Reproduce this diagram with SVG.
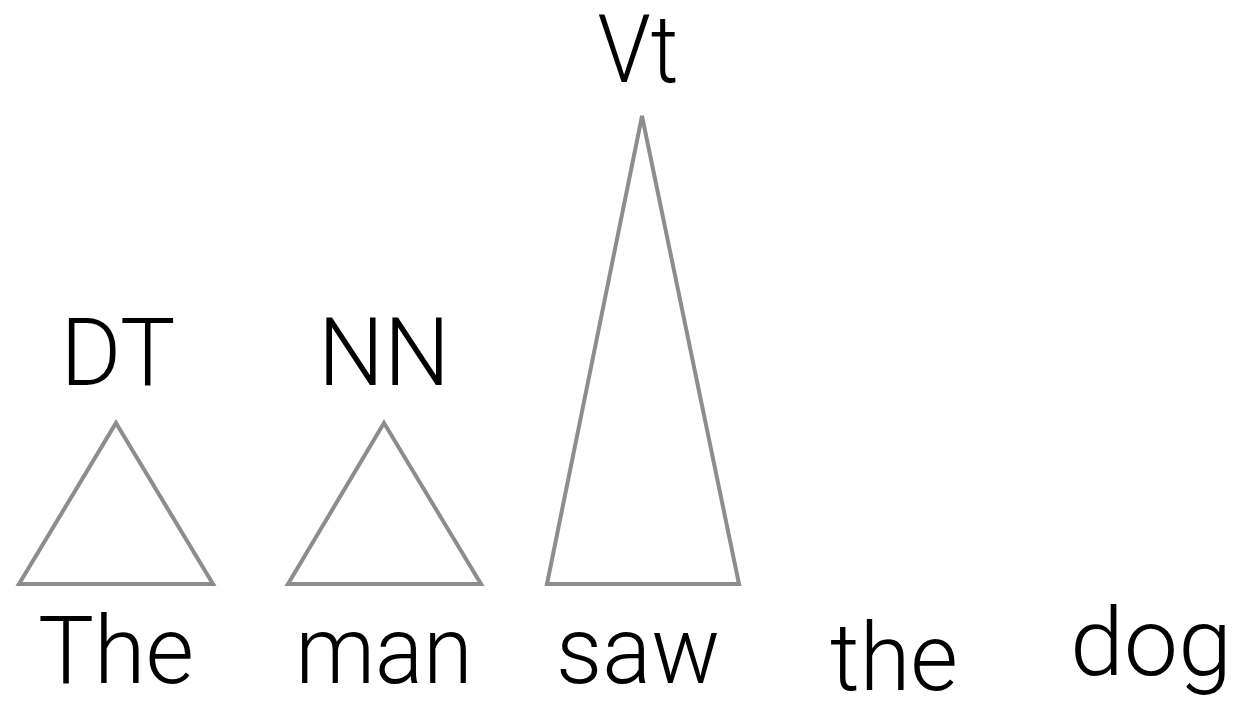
<svg xmlns="http://www.w3.org/2000/svg" width="1241" height="705" viewBox="0 0 1241 705">
<style>
  .tri { fill: none; stroke: #8b8d90; stroke-width: 4; stroke-linejoin: miter; }
  .lbl { font-family: Roboto, "Liberation Sans", Arial, sans-serif; font-weight: 300; font-size: 95px; fill: #000; text-anchor: middle; }
</style>
<rect width="1241" height="705" fill="#fff"/>
<g id="connectors">
  <polygon class="tri" points="116,423 213,584 19,584"/>
  <polygon class="tri" points="384,423 481,584 288,584"/>
  <polygon class="tri" points="642,116 739,584 547,584"/>
</g>
<g id="node-DT"><text class="lbl" x="118" y="385" textLength="115" lengthAdjust="spacingAndGlyphs">DT</text></g>
<g id="node-NN"><text class="lbl" x="384" y="385" textLength="132" lengthAdjust="spacingAndGlyphs">NN</text></g>
<g id="node-Vt"><text class="lbl" x="638" y="82" textLength="81" lengthAdjust="spacingAndGlyphs">Vt</text></g>
<g id="word-The"><text class="lbl" x="116" y="683" textLength="156" lengthAdjust="spacingAndGlyphs">The</text></g>
<g id="word-man"><text class="lbl" x="384" y="683" textLength="177" lengthAdjust="spacingAndGlyphs">man</text></g>
<g id="word-saw"><text class="lbl" x="638" y="683" textLength="164" lengthAdjust="spacingAndGlyphs">saw</text></g>
<g id="word-the"><text class="lbl" x="894" y="690" textLength="128" lengthAdjust="spacingAndGlyphs">the</text></g>
<g id="word-dog"><text class="lbl" x="1151" y="675" textLength="162" lengthAdjust="spacingAndGlyphs">dog</text></g>
</svg>
